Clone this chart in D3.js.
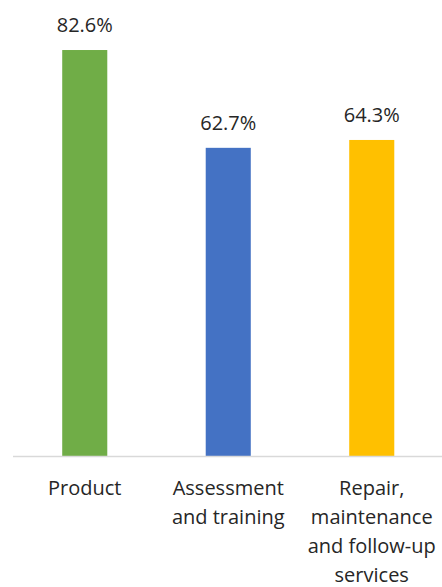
<!DOCTYPE html>
<html>
<head>
<meta charset="utf-8">
<script src="https://cdn.jsdelivr.net/npm/d3@7"></script>
<style>
  html, body { margin: 0; padding: 0; background: #fff; }
  svg { display: block; }
</style>
</head>
<body>
<svg id="chart" width="442" height="587"></svg>
<script>
// Share of respondents by offering type
const categories = ["Product", "Assessment and training", "Repair, maintenance and follow-up services"];
const values = [82.6, 62.7, 64.3];
const colors = ["#70AD47", "#4472C4", "#FFC000"];

const W = 442, H = 587;
const baseY = 456;
const font = "'Open Sans', sans-serif";

const svg = d3.select("#chart");

const x = d3.scaleBand()
  .domain(categories)
  .range([13, 443.5])
  .paddingInner(0.686)
  .paddingOuter(0.343);

const y = d3.scaleLinear()
  .domain([0, 90])
  .range([baseY, baseY - 90 * 4.915]);

// bars
svg.append("g")
  .selectAll("rect")
  .data(categories)
  .join("rect")
  .attr("x", d => x(d))
  .attr("y", (d, i) => y(values[i]))
  .attr("width", x.bandwidth())
  .attr("height", (d, i) => y(0) - y(values[i]))
  .attr("fill", (d, i) => colors[i]);

// category axis
const axis = svg.append("g")
  .attr("transform", `translate(0,${baseY})`)
  .call(d3.axisBottom(x).tickSize(0).tickPadding(0));
axis.select(".domain").attr("stroke", "#d9d9d9").attr("stroke-width", 1.3)
  .attr("d", `M13,0.5H442`);
axis.selectAll(".tick text").remove();

// wrapped category labels
function wrap(text, maxWidth) {
  const words = text.split(" ");
  const lines = [];
  let line = "";
  const probe = svg.append("text").style("font-family", font).style("font-size", "20px");
  for (const w of words) {
    const test = line ? line + " " + w : w;
    probe.text(test);
    if (probe.node().getComputedTextLength() > maxWidth && line) {
      lines.push(line);
      line = w;
    } else {
      line = test;
    }
  }
  if (line) lines.push(line);
  probe.remove();
  return lines;
}

const labels = svg.append("g")
  .selectAll("text")
  .data(categories)
  .join("text")
  .attr("text-anchor", "middle")
  .attr("fill", "#262626")
  .style("font-family", font)
  .style("font-size", "20px");

labels.each(function(d) {
  const lines = wrap(d, 140);
  const t = d3.select(this);
  lines.forEach((ln, j) => {
    t.append("tspan")
      .attr("x", x(d) + x.bandwidth() / 2)
      .attr("y", 495 + j * 29)
      .text(ln);
  });
});

// value labels
svg.append("g")
  .selectAll("text")
  .data(categories)
  .join("text")
  .attr("x", d => x(d) + x.bandwidth() / 2)
  .attr("y", (d, i) => y(values[i]) - 18)
  .attr("text-anchor", "middle")
  .attr("fill", "#262626")
  .style("font-family", font)
  .style("font-size", "20px")
  .text((d, i) => values[i].toFixed(1) + "%");
</script>
</body>
</html>
